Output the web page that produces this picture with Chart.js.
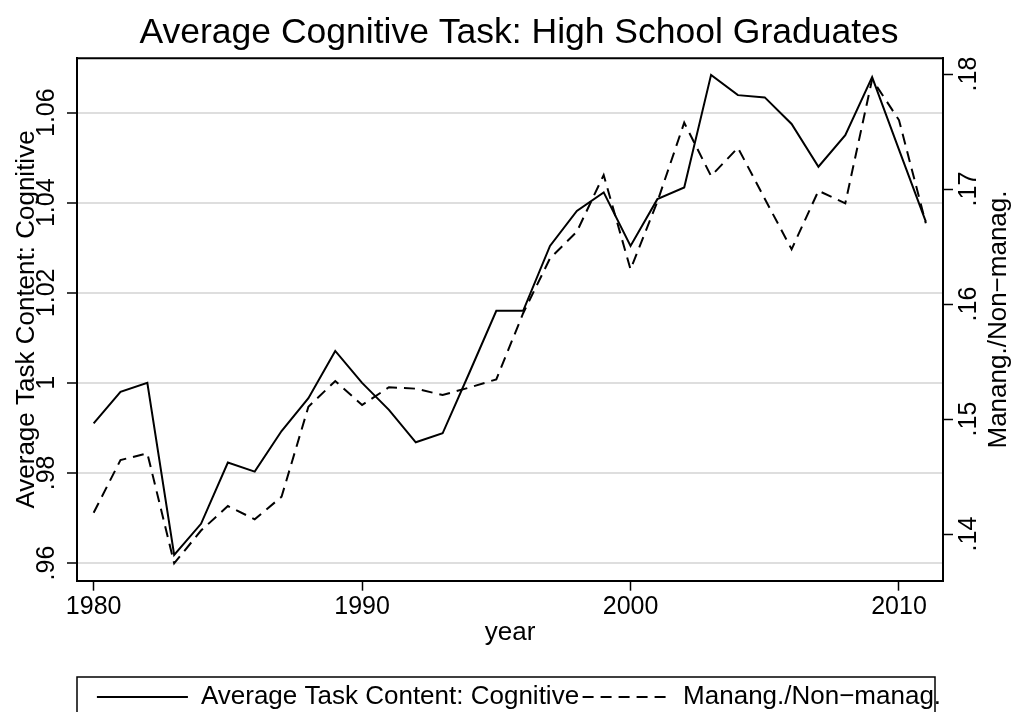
<!DOCTYPE html>
<html>
<head>
<meta charset="utf-8">
<title>Average Cognitive Task: High School Graduates</title>
<script src="https://cdn.jsdelivr.net/npm/chart.js@4.4.1/dist/chart.umd.min.js"></script>
<style>
  html, body { margin: 0; padding: 0; background: #fff; }
  #chart { display: block; }
</style>
</head>
<body>
<canvas id="chart" width="1014" height="712"></canvas>
<script>
// 年份
const years = [1980, 1981, 1982, 1983, 1984, 1985, 1986, 1987, 1988, 1989,
               1990, 1991, 1992, 1993, 1994, 1995, 1996, 1997, 1998, 1999,
               2000, 2001, 2002, 2003, 2004, 2005, 2006, 2007, 2008, 2009,
               2010, 2011];
// 平均认知任务内容（左轴）
const cognitive = [0.9910, 0.9980, 1.0000, 0.9618, 0.9687, 0.9823, 0.9803, 0.9893, 0.9966, 1.0071,
                   1.0000, 0.9940, 0.9868, 0.9888, 1.0023, 1.0160, 1.0160, 1.0304, 1.0382, 1.0423,
                   1.0304, 1.0408, 1.0434, 1.0684, 1.0639, 1.0634, 1.0575, 1.0480, 1.0550, 1.0679,
                   1.0518, 1.0358];
// 管理/非管理比例（右轴）
const managRatio = [0.14185, 0.14643, 0.14702, 0.13745, 0.14030, 0.14243, 0.14128, 0.14324, 0.15107, 0.15330,
                    0.15122, 0.15276, 0.15264, 0.15209, 0.15274, 0.15345, 0.15920, 0.16397, 0.16629, 0.17122,
                    0.16302, 0.16890, 0.17577, 0.17113, 0.17359, 0.16916, 0.16476, 0.16985, 0.16876, 0.17954,
                    0.17600, 0.16702];

// 刻度
const yearTicks = [1980, 1990, 2000, 2010];
const leftTicks = [0.96, 0.98, 1.00, 1.02, 1.04, 1.06];
const leftTickLabels = ['.96', '.98', '1', '1.02', '1.04', '1.06'];
const rightTicks = [0.14, 0.15, 0.16, 0.17, 0.18];
const rightTickLabels = ['.14', '.15', '.16', '.17', '.18'];

// 文字
const chartTitle = 'Average Cognitive Task: High School Graduates';
const xTitle = 'year';
const leftTitle = 'Average Task Content: Cognitive';
const rightTitle = 'Manang./Non\u2212manag.';
const seriesNames = ['Average Task Content: Cognitive', 'Manang./Non\u2212manag.'];

(() => {
    const FONT = "'Liberation Sans', Arial, Helvetica, sans-serif";
    Chart.defaults.font.family = FONT;
    Chart.defaults.color = '#000';

    const toPoints = values => years.map((y, i) => ({ x: y, y: values[i] }));

    // 固定刻度
    const fixTicks = (values, labels) => ({
        afterBuildTicks: scale => { scale.ticks = values.map(v => ({ value: v })); },
        callback: (v, i) => labels[i]
    });

    // 顶边框、图例外框、右轴标题
    const framePlugin = {
        id: 'frame',
        afterDraw(chart) {
            const { ctx, chartArea, legend, scales } = chart;
            ctx.save();
            ctx.strokeStyle = '#000';
            ctx.lineWidth = 2;
            ctx.beginPath();
            ctx.moveTo(chartArea.left - 1, chartArea.top);
            ctx.lineTo(chartArea.right + 1, chartArea.top);
            ctx.stroke();

            // 图例框：底边在画布外
            ctx.lineWidth = 1.5;
            ctx.strokeRect(chartArea.left, legend.top - 7, chartArea.right - 8 - chartArea.left, 80);

            const y2 = scales.y2;
            ctx.fillStyle = '#000';
            ctx.font = '26px ' + FONT;
            ctx.textAlign = 'center';
            ctx.textBaseline = 'alphabetic';
            ctx.translate(y2.right - 8, (y2.top + y2.bottom) / 2);
            ctx.rotate(-Math.PI / 2);
            ctx.fillText(rightTitle, 0, 0);
            ctx.restore();
        }
    };

    const xFix = fixTicks(yearTicks, yearTicks.map(String));
    const leftFix = fixTicks(leftTicks, leftTickLabels);
    const rightFix = fixTicks(rightTicks, rightTickLabels);

    new Chart(document.getElementById('chart'), {
        type: 'line',
        data: {
            datasets: [{
                label: seriesNames[0],
                data: toPoints(cognitive),
                yAxisID: 'y',
                borderColor: '#000',
                borderWidth: 2,
                pointRadius: 0,
                tension: 0,
                fill: false
            }, {
                label: seriesNames[1],
                data: toPoints(managRatio),
                yAxisID: 'y2',
                borderColor: '#000',
                borderWidth: 2,
                borderDash: [11, 7],
                pointRadius: 0,
                tension: 0,
                fill: false
            }]
        },
        options: {
            responsive: false,
            animation: false,
            devicePixelRatio: 1,
            layout: { autoPadding: false, padding: { top: 0, left: 24, right: 0, bottom: -8 } },
            plugins: {
                title: {
                    display: true,
                    text: chartTitle,
                    color: '#000',
                    font: { size: 35.5, weight: 'normal' },
                    padding: { top: 11.6, bottom: 4.1 }
                },
                legend: {
                    position: 'bottom',
                    labels: {
                        usePointStyle: true,
                        pointStyle: 'line',
                        pointStyleWidth: 91,
                        padding: 0,
                        color: '#000',
                        font: { size: 26 },
                        generateLabels: chart => chart.data.datasets.map((ds, i) => ({
                            text: ds.label,
                            fillStyle: 'rgba(0,0,0,0)',
                            strokeStyle: ds.borderColor,
                            lineWidth: ds.borderWidth,
                            lineDash: ds.borderDash || [],
                            lineDashOffset: ds.borderDash ? 14.5 : 0,
                            pointStyle: 'line',
                            fontColor: '#000',
                            hidden: false,
                            datasetIndex: i
                        }))
                    }
                },
                tooltip: { enabled: false }
            },
            scales: {
                x: {
                    type: 'linear',
                    position: 'bottom',
                    min: 1979.38,
                    max: 2011.64,
                    afterBuildTicks: xFix.afterBuildTicks,
                    afterFit: s => { s.height = 103.3; },
                    grid: { display: true, drawOnChartArea: false, tickLength: 10, tickColor: '#000', tickWidth: 1.5 },
                    border: { display: true, color: '#000', width: 2 },
                    ticks: { autoSkip: false, maxRotation: 0, padding: 1, font: { size: 25 }, callback: xFix.callback },
                    title: { display: true, text: xTitle, font: { size: 26 }, padding: { top: 0, bottom: 35.4 } }
                },
                y: {
                    type: 'linear',
                    position: 'left',
                    min: 0.95607,
                    max: 1.07208,
                    afterBuildTicks: leftFix.afterBuildTicks,
                    afterFit: s => { s.width = 53; },
                    grid: { color: '#dedede', lineWidth: 2, tickLength: 10, tickColor: '#000', tickWidth: 1.5 },
                    border: { display: true, color: '#000', width: 2 },
                    ticks: { autoSkip: false, minRotation: 90, maxRotation: 90, crossAlign: 'center', padding: -4.6, font: { size: 25 }, callback: leftFix.callback },
                    title: { display: true, text: leftTitle, font: { size: 26 }, padding: { top: -13, bottom: 0 } }
                },
                y2: {
                    type: 'linear',
                    position: 'right',
                    min: 0.13594,
                    max: 0.18137,
                    afterBuildTicks: rightFix.afterBuildTicks,
                    afterFit: s => { s.width = 71; },
                    grid: { drawOnChartArea: false, tickLength: 10, tickColor: '#000', tickWidth: 1.5 },
                    border: { display: true, color: '#000', width: 2 },
                    ticks: { autoSkip: false, minRotation: 90, maxRotation: 90, crossAlign: 'center', padding: -1.1, font: { size: 25 }, callback: rightFix.callback }
                }
            }
        },
        plugins: [framePlugin]
    });
})();
</script>
</body>
</html>
